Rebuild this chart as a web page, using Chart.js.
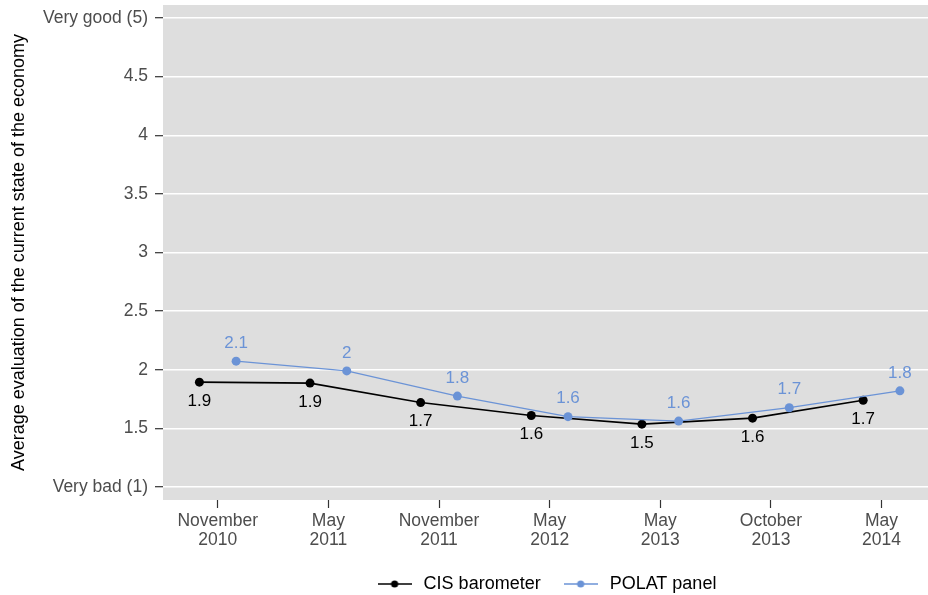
<!DOCTYPE html>
<html>
<head>
<meta charset="utf-8">
<script src="https://cdn.jsdelivr.net/npm/chart.js@4/dist/chart.umd.min.js"></script>
<style>
    html, body { margin: 0; padding: 0; background: #ffffff; }
    #wrap { width: 928px; height: 595px; }
</style>
</head>
<body>
<div id="wrap"><canvas id="econChart" width="928" height="595"></canvas></div>
<script>
// Survey waves (x axis)
const categories = [
    ['November', '2010'], ['May', '2011'], ['November', '2011'], ['May', '2012'],
    ['May', '2013'], ['October', '2013'], ['May', '2014']
];

// Average evaluation per wave
const cisValues = [1.894, 1.886, 1.72, 1.61, 1.536, 1.587, 1.74];
const polatValues = [2.073, 1.99, 1.775, 1.60, 1.562, 1.676, 1.82];

// Y axis ticks and their labels
const yTicks = [1, 1.5, 2, 2.5, 3, 3.5, 4, 4.5, 5];
const yTickLabels = ['Very bad (1)', '1.5', '2', '2.5', '3', '3.5', '4', '4.5', 'Very good (5)'];

const seriesNames = ['CIS barometer', 'POLAT panel'];

const FONT = "'Liberation Sans', Arial, Helvetica, sans-serif";
const blue = '#6b93d6';
const dodge = 0.166;

function toPoints(values, shift) {
    return values.map((v, i) => ({ x: i + shift, y: v }));
}

function roundLabel(v) {
    return String(parseFloat(v.toFixed(1)));
}

// Small line+dot swatch for the legend
function legendSwatch(color, lineWidth) {
    const c = document.createElement('canvas');
    c.width = 34;
    c.height = 12;
    const ctx = c.getContext('2d');
    ctx.strokeStyle = color;
    ctx.lineWidth = lineWidth;
    ctx.beginPath();
    ctx.moveTo(0, 6);
    ctx.lineTo(34, 6);
    ctx.stroke();
    ctx.fillStyle = color;
    ctx.beginPath();
    ctx.arc(17, 6, 3.6, 0, Math.PI * 2);
    ctx.fill();
    return c;
}
const swatches = [legendSwatch('#000000', 1.6), legendSwatch(blue, 1.3)];

// Gray panel behind the plot
const panelPlugin = {
    id: 'panel',
    beforeDraw(chart) {
        const { ctx, chartArea: a } = chart;
        ctx.save();
        ctx.fillStyle = '#dedede';
        ctx.fillRect(a.left, a.top, a.right - a.left, a.bottom - a.top);
        ctx.restore();
    }
};

// Value labels: CIS below its points, POLAT above
const valueLabelPlugin = {
    id: 'valueLabels',
    afterDatasetsDraw(chart) {
        const ctx = chart.ctx;
        ctx.save();
        ctx.font = '17px ' + FONT;
        ctx.textAlign = 'center';
        ctx.textBaseline = 'middle';
        chart.data.datasets.forEach((ds, di) => {
            const meta = chart.getDatasetMeta(di);
            const below = di === 0;
            ctx.fillStyle = below ? '#000000' : blue;
            meta.data.forEach((pt, i) => {
                const y = below ? pt.y + 19 : pt.y - 18;
                ctx.fillText(roundLabel(ds.data[i].y), pt.x, y);
            });
        });
        ctx.restore();
    }
};

new Chart(document.getElementById('econChart'), {
    type: 'line',
    data: {
        datasets: [{
            label: seriesNames[0],
            data: toPoints(cisValues, -dodge),
            borderColor: '#000000',
            backgroundColor: '#000000',
            borderWidth: 1.6,
            pointRadius: 4.5,
            pointBorderWidth: 0,
            tension: 0,
            order: 1
        }, {
            label: seriesNames[1],
            data: toPoints(polatValues, dodge),
            borderColor: blue,
            backgroundColor: blue,
            borderWidth: 1.3,
            pointRadius: 4.5,
            pointBorderWidth: 0,
            tension: 0,
            order: 0
        }]
    },
    options: {
        responsive: false,
        animation: false,
        layout: { autoPadding: false, padding: { top: 5, left: 0, right: 0, bottom: -8 } },
        plugins: {
            tooltip: { enabled: false },
            legend: {
                position: 'bottom',
                fullSize: false,
                labels: {
                    usePointStyle: true,
                    pointStyleWidth: 40,
                    padding: 20,
                    color: '#000000',
                    font: { family: FONT, size: 18 },
                    sort: (a, b) => a.datasetIndex - b.datasetIndex,
                    generateLabels(chart) {
                        const items = Chart.defaults.plugins.legend.labels.generateLabels(chart);
                        items.forEach(it => { it.pointStyle = swatches[it.datasetIndex]; });
                        return items;
                    }
                }
            }
        },
        scales: {
            x: {
                type: 'linear',
                min: -0.495,
                max: 6.42,
                afterBuildTicks(scale) {
                    scale.ticks = categories.map((c, i) => ({ value: i }));
                },
                afterFit(scale) {
                    scale.height = 55;
                    scale.paddingLeft = 0;
                    scale.paddingRight = 0;
                },
                ticks: {
                    autoSkip: false,
                    maxRotation: 0,
                    padding: 4,
                    color: '#4d4d4d',
                    font: { family: FONT, size: 17.5, lineHeight: 1.06 },
                    callback: (value, index) => categories[index]
                },
                grid: {
                    drawOnChartArea: false,
                    tickLength: 8,
                    tickColor: '#333333',
                    tickWidth: 1.2
                },
                border: { display: false }
            },
            y: {
                min: 0.889,
                max: 5.111,
                afterBuildTicks(scale) {
                    scale.ticks = yTicks.map(v => ({ value: v }));
                },
                afterFit(scale) {
                    scale.width = 163;
                    scale.paddingTop = 0;
                    scale.paddingBottom = 0;
                },
                ticks: {
                    padding: 7,
                    color: '#4d4d4d',
                    font: { family: FONT, size: 17.5 },
                    callback: (value, index) => yTickLabels[index]
                },
                grid: {
                    color: '#ffffff',
                    lineWidth: 1.4,
                    tickLength: 8,
                    tickColor: '#333333',
                    tickWidth: 1.2
                },
                border: { display: false },
                title: {
                    display: true,
                    text: 'Average evaluation of the current state of the economy',
                    color: '#000000',
                    font: { family: FONT, size: 18 },
                    padding: { top: 8, bottom: 0 }
                }
            }
        }
    },
    plugins: [panelPlugin, valueLabelPlugin]
});
</script>
</body>
</html>
